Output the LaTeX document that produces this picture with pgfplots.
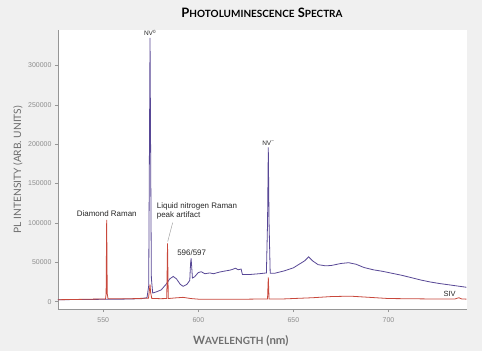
\documentclass[border=0pt]{standalone}
\usepackage{pgfplots}
\pgfplotsset{compat=1.18}
\usepackage{fontspec}
\setmainfont{Liberation Sans}
\newfontfamily\titlefont{Lato}
\definecolor{bgc}{RGB}{240,240,240}
\definecolor{bluec}{RGB}{88,72,150}
\definecolor{redc}{RGB}{200,72,60}
\definecolor{tickc}{RGB}{140,140,140}
\definecolor{axc}{RGB}{150,150,150}
\definecolor{labc}{RGB}{110,110,110}
\definecolor{annc}{RGB}{40,40,40}
\begin{document}
\begin{tikzpicture}
\fill[bgc] (-58bp,-42bp) rectangle (424bp,309bp);
\begin{axis}[
  scale only axis, width=409bp, height=279bp,
  xmin=526.2, xmax=741.3, ymin=-9300, ymax=345000,
  axis background/.style={fill=white},
  axis lines*=left, axis line style={axc, line width=0.6pt, -},
  tick align=outside, major tick length=3bp, tick style={axc, line width=0.5pt},
  xtick={550,600,650,700}, xticklabels={550,600,650,700},
  ytick={0,50000,100000,150000,200000,250000,300000},
  yticklabels={0,50000,100000,150000,200000,250000,300000},
  scaled y ticks=false, scaled x ticks=false,
  ticklabel style={font=\fontsize{7}{8}\selectfont, text=tickc},
  xticklabel style={yshift=-2bp},
  clip=true,
]
\addplot[bluec, line width=0.8pt] coordinates {
(526,2500) (540,2800) (560,3200) (570,3800) (573,5000) (573.9,20000) (574.3,200000) (574.6,335000) (574.9,200000) (575.3,30000)
(576,11000) (578,12500) (580.5,15000) (583,22000) (585,29000) (586.8,32000) (588.5,29000) (590.5,22000) (592,19500) (594,22000)
(595.5,27000) (595.9,48000) (596.2,55000) (596.5,45000) (596.9,30000) (598,31500) (600,37000) (601.5,38000) (603.5,35500)
(606,36500) (608,35500) (611,37500) (613,38500) (616.5,40000) (618,41000) (619.5,42500) (621,40500) (622.5,41500) (623.2,34500)
(627,34500) (632,35500) (635.8,36500) (636.4,100000) (636.8,196000) (637.2,100000) (637.8,36000) (640,36000) (645,39000)
(650,43000) (654,49000) (656,52000) (658,57000) (660,52000) (663,47000) (667,45500) (670,46000) (675,48500) (679,49500)
(683,47500) (687,43500) (692,40500) (697,38500) (702,36000) (707,33500) (712,30500) (717,27500) (722,25000) (727,23000)
(733,21000) (741,18300)
};
\addplot[redc, line width=0.8pt] coordinates {
(526,2500) (540,3000) (551.2,3500) (551.5,10000) (551.8,104000) (552.1,10000) (552.5,3800) (565,3800) (573.8,4500)
(574.3,15000) (574.6,22000) (574.9,12000) (575.5,4200) (580,3800) (583.4,4000) (583.8,74000) (584.2,4000) (588,4800)
(592,5500) (596,4000) (600,3200) (620,3000) (636.4,3500) (636.8,31000) (637.2,3500) (645,3500) (660,5000) (670,6500)
(680,7000) (690,5500) (700,4000) (720,3500) (735,3500) (737,5000) (738.5,3500) (741,3200)
};
\draw[axc, line width=0.4pt] (axis cs:583.9,76300) -- (axis cs:586.5,100400);
\node[anchor=south, font=\fontsize{6.5}{7}\selectfont, text=annc, inner sep=1bp] at (axis cs:574.6,336000) {NV\textsuperscript{0}};
\node[anchor=south, font=\fontsize{6.5}{7}\selectfont, text=annc, inner sep=1bp] at (axis cs:636.8,197000) {NV\textsuperscript{\textendash}};
\node[anchor=west, font=\fontsize{8}{9}\selectfont, text=annc, inner sep=0pt] at (axis cs:536,111500) {Diamond Raman};
\node[anchor=west, font=\fontsize{8}{9}\selectfont, text=annc, inner sep=0pt] at (axis cs:578.1,120700) {Liquid nitrogen Raman};
\node[anchor=west, font=\fontsize{8}{9}\selectfont, text=annc, inner sep=0pt] at (axis cs:578.1,108900) {peak artifact};
\node[font=\fontsize{8}{9}\selectfont, text=annc, inner sep=0pt] at (axis cs:596.5,62300) {596/597};
\node[font=\fontsize{7.5}{9}\selectfont, text=annc, inner sep=0pt] at (axis cs:732.2,9400) {SIV};
\end{axis}
\node[font=\titlefont\bfseries\fontsize{13}{14}\selectfont, text=black] at (204bp,296bp) {P{\fontsize{10}{12}\selectfont HOTOLUMINESCENCE} S{\fontsize{10}{12}\selectfont PECTRA}};
\node[rotate=90, font=\titlefont\fontsize{10.2}{12}\selectfont, text=labc] at (-40bp,139.5bp) {PL INTENSITY (ARB. UNITS)};
\node[font=\titlefont\bfseries\fontsize{11.5}{13}\selectfont, text=labc] at (182.8bp,-32bp) {W{\fontsize{10}{12}\selectfont AVELENGTH} (nm)};
\end{tikzpicture}
\end{document}
